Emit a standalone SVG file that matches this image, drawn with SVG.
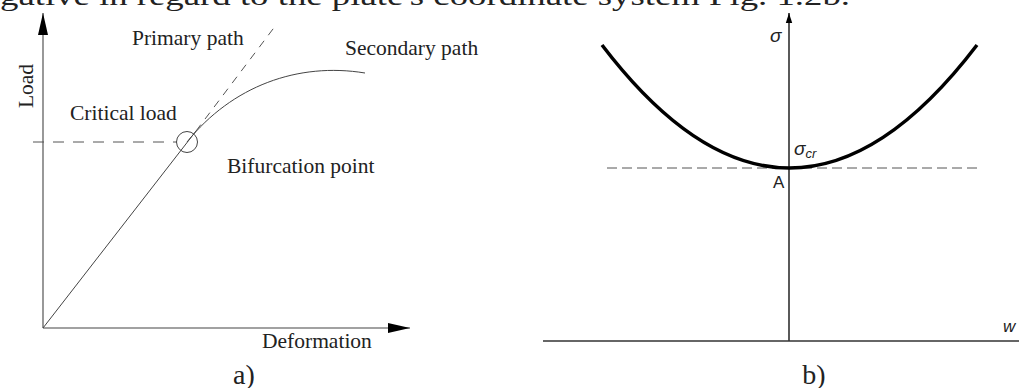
<svg xmlns="http://www.w3.org/2000/svg" width="1019" height="388" viewBox="0 0 1019 388">
<style>
.serif{font-family:"Liberation Serif","Times New Roman",serif;fill:#222}
.sans{font-family:"Liberation Sans",Arial,sans-serif;fill:#222}
.ax{stroke:#444;stroke-width:1.1;fill:none}
.thin{stroke:#444;stroke-width:1;fill:none}
.dash{stroke:#555;stroke-width:1;fill:none;stroke-dasharray:11 9}
</style>
<defs>
<marker id="ahL" markerWidth="22" markerHeight="10" refX="22" refY="5" orient="auto" markerUnits="userSpaceOnUse">
<path d="M0,0 L22,5 L0,10 Z" fill="#000"/>
</marker>
<marker id="ahR" markerWidth="10" markerHeight="8" refX="10" refY="4" orient="auto" markerUnits="userSpaceOnUse">
<path d="M0,0.8 L10,4 L0,7.2 Z" fill="#000"/>
</marker>
</defs>
<text class="serif" x="0" y="5" font-size="28" textLength="850" lengthAdjust="spacingAndGlyphs">gative in regard to the plate's coordinate system Fig. 1.2b.</text>

<g id="panel-a">
<g id="connectors-a">
<line class="ax" x1="43" y1="328" x2="43" y2="13" marker-end="url(#ahL)"/>
<line class="ax" x1="43" y1="328" x2="410" y2="328" marker-end="url(#ahL)"/>
<line class="thin" x1="43" y1="328" x2="196" y2="131"/>
<line class="dash" x1="33" y1="142" x2="177" y2="142"/>
<line class="dash" x1="196" y1="131" x2="276" y2="25" style="stroke-dasharray:8 7"/>
<path class="thin" d="M187,142 C232,86 298,62 365,73"/>
</g>
<g id="bifurcation-point"><circle cx="187" cy="142" r="10.5" class="thin"/></g>
<g id="labels-a">
<text class="serif" x="33" y="86" font-size="21.5" text-anchor="middle" transform="rotate(-90 33 86)">Load</text>
<text class="serif" x="132" y="45" font-size="21.5">Primary path</text>
<text class="serif" x="345" y="55" font-size="21.5">Secondary path</text>
<text class="serif" x="70" y="120" font-size="21.5">Critical load</text>
<text class="serif" x="227" y="173" font-size="21.5">Bifurcation point</text>
<text class="serif" x="262" y="348" font-size="21.5">Deformation</text>
<text class="serif" x="244" y="384" font-size="28" text-anchor="middle">a)</text>
</g>
</g>

<g id="panel-b">
<g id="connectors-b">
<line stroke="#000" stroke-width="1.3" x1="789" y1="341" x2="789" y2="13" marker-end="url(#ahR)"/>
<line stroke="#333" stroke-width="1.3" x1="543" y1="341" x2="1019" y2="341"/>
<line stroke="#555" stroke-width="1" stroke-dasharray="10 5" x1="607" y1="168" x2="977" y2="168"/>
<path d="M602,45 Q789.5,291 977,45" fill="none" stroke="#000" stroke-width="3.5"/>
</g>
<g id="labels-b">
<text class="sans" x="770" y="42" font-size="19" font-style="italic">σ</text>
<text class="sans" x="794" y="155" font-size="19" font-style="italic">σ<tspan font-size="13" dy="3">cr</tspan></text>
<text class="sans" x="773" y="188" font-size="17">A</text>
<text class="sans" x="1003" y="332" font-size="17" font-style="italic">w</text>
<text class="serif" x="814" y="384" font-size="28" text-anchor="middle">b)</text>
</g>
</g>
</svg>
